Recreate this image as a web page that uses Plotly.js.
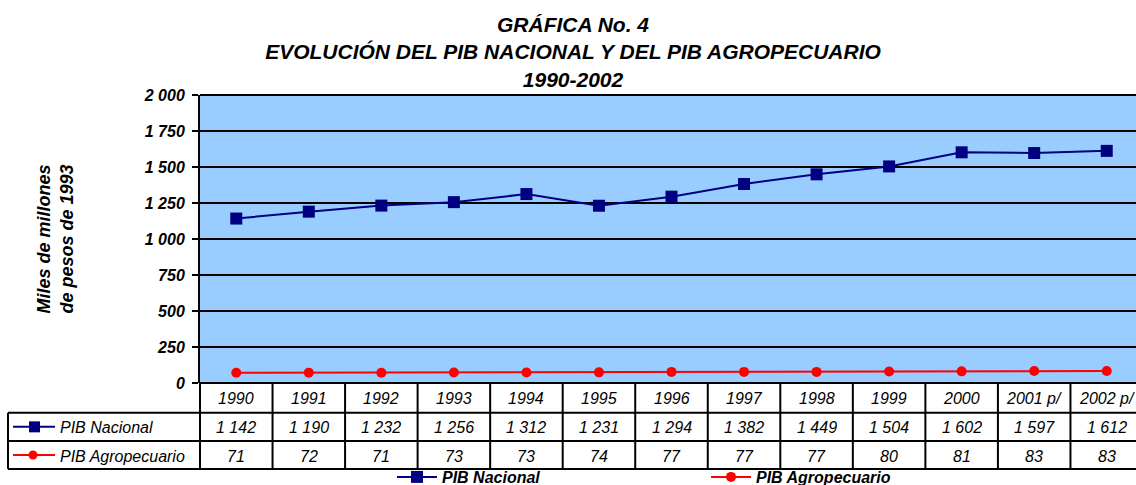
<!DOCTYPE html>
<html>
<head>
<meta charset="utf-8">
<script src="https://cdn.plot.ly/plotly-3.0.1.min.js"></script>
<style>
html,body{margin:0;padding:0;overflow:hidden;background:#fff;}
#chart{width:1144px;height:485px;}
</style>
</head>
<body>
<div id="chart"></div>
<script>
// ---- data ----
const years = ['1990','1991','1992','1993','1994','1995','1996','1997','1998','1999','2000','2001 p/','2002 p/'];
const pibNacional = [1142,1190,1232,1256,1312,1231,1294,1382,1449,1504,1602,1597,1612];
const pibAgro = [71,72,71,73,73,74,77,77,77,80,81,83,83];
const seriesNames = ['PIB Nacional','PIB Agropecuario'];
const yTicks = [0,250,500,750,1000,1250,1500,1750,2000];

// ---- layout helpers (pixel -> paper) ----
const W = 1144, H = 485;
const mL = 200, mR = 1, mT = 95, mB = 102;
const plotW = W - mL - mR, plotH = H - mT - mB;
const px = p => (p - mL) / plotW;
const py = p => (H - mB - p) / plotH;

const font = 'Liberation Sans, Arial, sans-serif';
const navy = '#000080', red = '#FF0000';

function fmt(v){ return String(v).replace(/\B(?=(\d{3})+(?!\d))/g, ' '); }

const traces = [
  {x: years, y: pibNacional, name: seriesNames[0], type:'scatter', mode:'lines+markers',
   line:{color:navy, width:2}, marker:{symbol:'square', size:12, color:navy}},
  {x: years, y: pibAgro, name: seriesNames[1], type:'scatter', mode:'lines+markers',
   line:{color:red, width:2}, marker:{symbol:'circle', size:10, color:red}}
];

// table geometry (pixels)
const rowY = [383, 412.7, 441, 469];
const leftX = 8;
const n = years.length;
const shapes = [];
const lw = 2;
shapes.push({type:'line', xref:'paper', yref:'paper', x0:0, x1:1, y0:py(rowY[0]), y1:py(rowY[0]), line:{color:'#000', width:lw}});
for (let r = 1; r < rowY.length; r++) {
  shapes.push({type:'line', xref:'paper', yref:'paper', x0:px(leftX), x1:1, y0:py(rowY[r]), y1:py(rowY[r]), line:{color:'#000', width:lw}});
}
for (let k = 0; k <= n; k++) {
  shapes.push({type:'line', xref:'paper', yref:'paper', x0:k/n, x1:k/n, y0:py(rowY[0]), y1:py(rowY[3]), line:{color:'#000', width:lw}});
}
shapes.push({type:'line', xref:'paper', yref:'paper', x0:px(leftX), x1:px(leftX), y0:py(rowY[1]), y1:py(rowY[3]), line:{color:'#000', width:lw}});
shapes.push({type:'line', xref:'paper', yref:'paper', x0:0, x1:1, y0:1, y1:1, line:{color:'#000', width:lw}});

// legend keys inside table
const r2c = (rowY[1]+rowY[2])/2, r3c = (rowY[2]+rowY[3])/2;
shapes.push({type:'line', xref:'paper', yref:'paper', x0:px(13), x1:px(55), y0:py(r2c), y1:py(r2c), line:{color:navy, width:2}});
shapes.push({type:'rect', xref:'paper', yref:'paper', x0:px(29), x1:px(40), y0:py(r2c-5.5), y1:py(r2c+5.5), fillcolor:navy, line:{width:0}});
shapes.push({type:'line', xref:'paper', yref:'paper', x0:px(13), x1:px(55), y0:py(r3c), y1:py(r3c), line:{color:red, width:2}});
shapes.push({type:'circle', xref:'paper', yref:'paper', x0:px(28.5), x1:px(37.5), y0:py(r3c-4.5), y1:py(r3c+4.5), fillcolor:red, line:{width:0}});

const cellFont = {family:font, size:16, color:'#000', style:'italic'};
const annotations = [];
const r1c = (rowY[0]+rowY[1])/2;
years.forEach((yr, i) => {
  annotations.push({xref:'x', yref:'paper', x:i, y:py(r1c+1), xanchor:'center', yanchor:'middle', text:yr, showarrow:false, font:cellFont});
  annotations.push({xref:'x', yref:'paper', x:i, y:py(r2c+1), xanchor:'center', yanchor:'middle', text:fmt(pibNacional[i]), showarrow:false, font:cellFont});
  annotations.push({xref:'x', yref:'paper', x:i, y:py(r3c+1), xanchor:'center', yanchor:'middle', text:fmt(pibAgro[i]), showarrow:false, font:cellFont});
});
annotations.push({xref:'paper', yref:'paper', x:px(58), xanchor:'left', yanchor:'middle', y:py(r2c+1), text:seriesNames[0], showarrow:false, font:cellFont});
annotations.push({xref:'paper', yref:'paper', x:px(58), xanchor:'left', yanchor:'middle', y:py(r3c+1), text:seriesNames[1], showarrow:false, font:cellFont});

const layout = {
  width: W, height: H,
  margin: {l:mL, r:mR, t:mT, b:mB, pad:0, autoexpand:false},
  paper_bgcolor:'#fff', plot_bgcolor:'#99CCFF',
  separators: ', ',
  font: {family:font, color:'#000'},
  title: {
    text: 'GRÁFICA No. 4<br>EVOLUCIÓN DEL PIB NACIONAL Y DEL PIB AGROPECUARIO<br>1990-2002',
    font: {family:font, size:21, weight:'bold', style:'italic', color:'#000'},
    x: 573/W, xanchor:'center', y: 1 - 32/H, yanchor:'top'
  },
  xaxis: {type:'category', range:[-0.5, n-0.5], showticklabels:false, showgrid:false,
          zeroline:false, showline:false, ticks:'', fixedrange:true},
  yaxis: {range:[0,2000], tickvals:yTicks, tickformat:',d', showgrid:true, gridcolor:'#000', gridwidth:2,
          zeroline:false, showline:true, linecolor:'#000', linewidth:2, ticks:'outside', ticklen:6,
          tickwidth:2, tickcolor:'#000', ticklabelstandoff:4,
          tickfont:{family:font, size:16, weight:'bold', style:'italic', color:'#000'},
          title:{text:'Miles de millones<br>de pesos de 1993', standoff:65,
                 font:{family:font, size:18, weight:'bold', style:'italic', color:'#000'}}},
  showlegend: true,
  legend: {orientation:'h', x:px(392), xanchor:'left', y:py(460), yanchor:'top',
           itemwidth:40, entrywidth:259, entrywidthmode:'pixels', bgcolor:'rgba(0,0,0,0)',
           font:{family:font, size:16, weight:'bold', style:'italic', color:'#000'}, tracegroupgap:0},
  shapes: shapes,
  annotations: annotations
};

Plotly.newPlot('chart', traces, layout, {displayModeBar:false, staticPlot:true});
</script>
</body>
</html>
